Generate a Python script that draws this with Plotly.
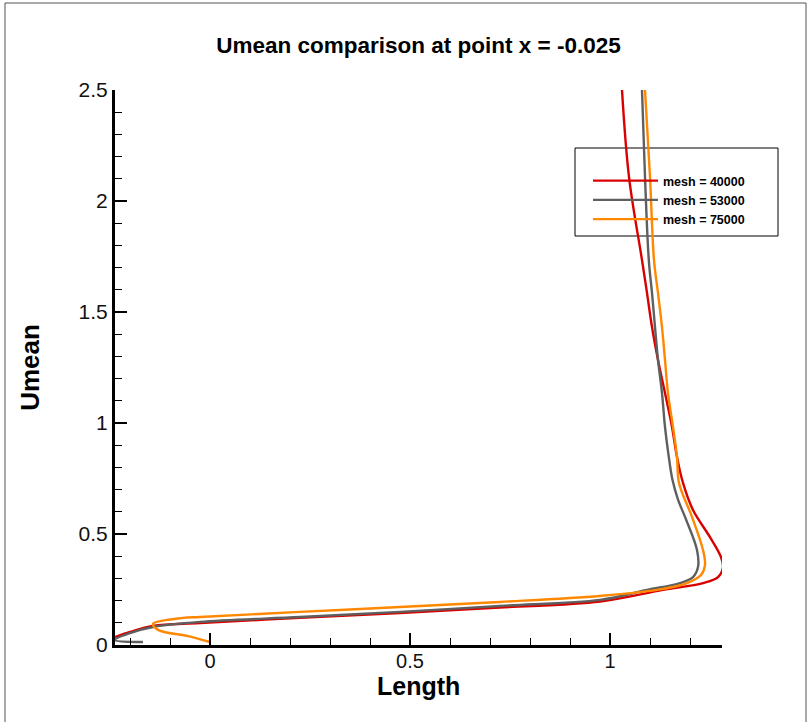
import plotly.graph_objects as go

# ---- data ----
red_x = [-0.2375, -0.2, -0.1425, -0.025, 0.225, 0.475, 0.725, 0.975, 1.1325, 1.2325, 1.27, 1.2825,
         1.2775, 1.25, 1.2075, 1.1825, 1.1675, 1.155, 1.1375, 1.12, 1.105, 1.0925, 1.08, 1.0475, 1.03]
red_y = [0.036, 0.059, 0.086, 0.099, 0.122, 0.144, 0.169, 0.196, 0.248, 0.279, 0.306, 0.351,
         0.396, 0.486, 0.608, 0.730, 0.847, 0.982, 1.135, 1.284, 1.432, 1.586, 1.734, 2.108, 2.5]

gray_x = [-0.1675, -0.2375, -0.2, -0.1425, -0.025, 0.225, 0.475, 0.725, 0.975, 1.0925, 1.175, 1.2075,
          1.22, 1.2175, 1.1875, 1.17, 1.156, 1.146, 1.1375, 1.13, 1.12, 1.1125, 1.105, 1.097, 1.0875, 1.08]
gray_y = [0.0135, 0.0225, 0.054, 0.081, 0.104, 0.126, 0.149, 0.176, 0.203, 0.248, 0.279, 0.306,
          0.351, 0.428, 0.577, 0.655, 0.745, 0.860, 0.982, 1.135, 1.284, 1.432, 1.586, 1.734, 2.108, 2.5]

orange_x = [0.0, -0.0575, -0.13, -0.1425, -0.0675, -0.025, 0.225, 0.475, 0.725, 0.975, 1.1175, 1.1925,
            1.2275, 1.2375, 1.2325, 1.205, 1.1725, 1.1675, 1.1575, 1.145, 1.1375, 1.13, 1.12, 1.11, 1.1, 1.0875]
orange_y = [0.0135, 0.041, 0.068, 0.095, 0.122, 0.126, 0.149, 0.171, 0.194, 0.221, 0.248, 0.279,
            0.315, 0.360, 0.428, 0.577, 0.730, 0.847, 0.982, 1.135, 1.284, 1.432, 1.586, 1.734, 2.108, 2.5]

series_names = ["mesh = 40000", "mesh = 53000", "mesh = 75000"]
series_colors = ["#d90000", "#5f5f5f", "#ff8800"]

fig = go.Figure()
for name, xs, ys, col in zip(series_names, [red_x, gray_x, orange_x], [red_y, gray_y, orange_y], series_colors):
    fig.add_trace(go.Scatter(x=xs, y=ys, mode="lines", name=name,
                             line=dict(color=col, width=2.4, shape="spline", smoothing=1.0)))

FONT = "Liberation Sans, Arial, sans-serif"

fig.update_layout(
    width=809, height=722,
    margin=dict(l=115, r=87, t=90, b=77),
    plot_bgcolor="white", paper_bgcolor="white",
    title=dict(text="<b>Umean comparison at point x = -0.025</b>", x=0.5, xanchor="center",
               xref="paper", y=1 - 45 / 722, yanchor="middle",
               font=dict(family=FONT, size=22.5, color="black")),
    showlegend=True,
    legend=dict(x=(588 - 115) / 607, y=(645 - 166) / 555, xanchor="left", yanchor="top",
                bgcolor="rgba(0,0,0,0)", borderwidth=0, itemwidth=65,
                font=dict(family=FONT, size=12.5, color="black", weight="bold"),
                tracegroupgap=0),
    xaxis=dict(range=[-0.2375, 1.28], showgrid=False, zeroline=False,
               showline=True, linecolor="black", linewidth=3,
               ticks="inside", ticklen=12, tickwidth=2, tickcolor="black",
               tickvals=[0, 0.5, 1], ticktext=["0", "0.5", "1"],
               minor=dict(ticks="inside", ticklen=7, tickwidth=1, tickcolor="black", dtick=0.1, tick0=0, showgrid=False),
               tickfont=dict(family=FONT, size=20, color="#111"),
               ticklabelstandoff=-4,
               mirror=False),
    yaxis=dict(range=[0, 2.5], showgrid=False, zeroline=False,
               showline=True, linecolor="black", linewidth=3,
               ticks="inside", ticklen=12, tickwidth=2, tickcolor="black",
               tickvals=[0, 0.5, 1, 1.5, 2, 2.5], ticktext=["0", "0.5", "1", "1.5", "2", "2.5"],
               minor=dict(ticks="inside", ticklen=7, tickwidth=1, tickcolor="black", dtick=0.1, tick0=0, showgrid=False),
               tickfont=dict(family=FONT, size=21, color="#111"),
               title=dict(text="<b>Umean</b>", font=dict(family=FONT, size=26, color="black"), standoff=32),
               mirror=False),
    annotations=[
        dict(text="<b>Length</b>", xref="paper", yref="paper", x=0.5, y=(645 - 686) / 555,
             xanchor="center", yanchor="middle", showarrow=False,
             font=dict(family=FONT, size=25, color="black")),
    ],
    shapes=[
        # outer frame
        dict(type="rect", xref="paper", yref="paper",
             x0=(5 - 115) / 607, x1=(806 - 115) / 607, y0=(645 - 740) / 555, y1=(645 - 3) / 555,
             line=dict(color="#555", width=1), fillcolor="rgba(0,0,0,0)", layer="below"),
        # legend box
        dict(type="rect", xref="paper", yref="paper",
             x0=(575 - 115) / 607, x1=(778 - 115) / 607, y0=(645 - 236) / 555, y1=(645 - 148) / 555,
             line=dict(color="black", width=1), fillcolor="white", layer="below"),
    ],
)

fig.write_html("out.html")
